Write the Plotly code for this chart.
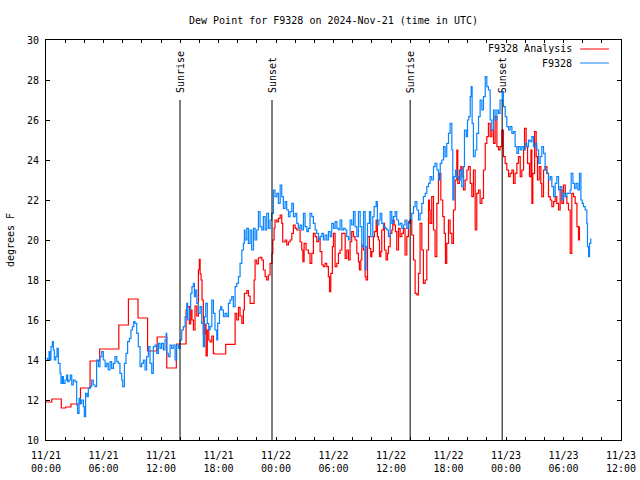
import pandas as pd
import plotly.graph_objects as go

START = pd.Timestamp("2024-11-21 00:00")

# F9328 Analysis (red) : minutes after 2024-11-21 00:00 UTC and dew point (F)
red_minutes = [
    0, 36, 96, 123, 156, 216, 276, 336, 456, 516,
    576, 636, 696, 756, 816, 877, 885, 898, 906, 914,
    923, 933, 944, 954, 960, 965, 971, 977, 985, 994,
    1002, 1010, 1019, 1027, 1038, 1048, 1054, 1125, 1184, 1194,
    1205, 1215, 1226, 1236, 1242, 1257, 1267, 1278, 1294, 1303,
    1309, 1319, 1330, 1340, 1351, 1361, 1372, 1382, 1392, 1403,
    1415, 1420, 1428, 1434, 1445, 1455, 1466, 1476, 1482, 1497,
    1507, 1518, 1528, 1539, 1549, 1560, 1570, 1580, 1591, 1601,
    1608, 1616, 1628, 1643, 1653, 1664, 1674, 1685, 1695, 1706,
    1716, 1727, 1737, 1747, 1758, 1768, 1775, 1783, 1793, 1800,
    1810, 1821, 1831, 1841, 1852, 1862, 1873, 1883, 1894, 1904,
    1914, 1925, 1935, 1946, 1956, 1962, 1971, 1977, 1988, 1998,
    2004, 2013, 2025, 2033, 2040, 2050, 2056, 2067, 2075, 2081,
    2088, 2096, 2102, 2113, 2119, 2129, 2138, 2144, 2155, 2165,
    2171, 2180, 2188, 2196, 2207, 2217, 2228, 2238, 2248, 2259,
    2269, 2280, 2290, 2301, 2311, 2322, 2332, 2342, 2353, 2363,
    2374, 2384, 2395, 2401, 2405, 2415, 2426, 2436, 2447, 2457,
    2463, 2472, 2484, 2493, 2501, 2509, 2520, 2530, 2541, 2551,
    2562, 2572, 2578, 2589, 2597, 2605, 2614, 2624, 2635, 2645,
    2656, 2666, 2676, 2687, 2697, 2708, 2718, 2729, 2739, 2750,
    2760, 2770, 2781, 2791, 2802, 2812, 2823, 2833, 2843, 2854,
    2864, 2875, 2885, 2896, 2906, 2917, 2927, 2937, 2948, 2958,
    2969, 2979, 2990, 2996, 3006, 3015, 3027, 3036, 3042, 3048,
    3059, 3069, 3077, 3088, 3098, 3104, 3115, 3125, 3136, 3146,
    3157, 3167, 3178, 3188, 3198, 3209, 3219, 3230, 3240, 3251,
    3261, 3271, 3282, 3292, 3303, 3313, 3324, 3334, 3340,
]
red_values = [
    11.9, 12.05, 11.6, 11.65, 11.8, 12.6, 13.95, 14.55, 15.75, 17.05,
    16.1, 14.45, 15.15, 13.6, 14.8, 16.5, 16.67, 15.8, 16.5, 16.0,
    15.5, 16.7, 16.2, 18.5, 19.03, 18.3, 18.0, 17.0, 15.3, 15.8,
    14.2, 15.5, 15.0, 14.9, 15.2, 14.33, 14.3, 14.78, 16.33, 16.0,
    16.63, 16.2, 15.83, 16.5, 17.33, 17.47, 17.2, 16.83, 16.83, 18.0,
    19.0, 18.8, 19.1, 19.13, 19.0, 18.5, 18.17, 18.0, 18.25, 18.83,
    19.33, 20.0, 20.6, 21.0, 20.9, 21.08, 21.25, 20.83, 19.9, 20.0,
    19.75, 19.9, 20.0, 20.33, 20.75, 20.58, 20.5, 20.5, 19.9, 19.5,
    18.92, 19.83, 19.5, 19.33, 18.83, 19.33, 20.33, 20.17, 19.92, 20.08,
    19.42, 18.75, 18.67, 18.83, 18.67, 18.17, 17.42, 18.33, 19.67, 20.33,
    18.67, 18.83, 19.33, 19.5, 20.33, 20.33, 19.08, 19.5, 19.0, 19.92,
    20.42, 20.17, 20.0, 19.33, 18.92, 18.5, 19.0, 19.75, 19.5, 18.17,
    18.0, 20.17, 19.58, 19.17, 19.42, 20.17, 20.42, 21.0, 20.17, 20.0,
    19.17, 19.42, 20.5, 20.83, 19.5, 19.0, 19.33, 19.67, 20.33, 20.5,
    21.0, 20.75, 20.42, 19.5, 20.58, 20.17, 20.33, 20.58, 19.25, 20.17,
    20.92, 21.0, 20.25, 19.0, 17.33, 17.25, 18.33, 20.83, 19.5, 17.83,
    18.0, 19.5, 22.0, 21.5, 20.83, 22.17, 20.5, 19.17, 21.83, 23.0,
    23.33, 22.0, 21.17, 20.33, 18.83, 19.83, 21.0, 20.33, 19.83, 21.5,
    23.0, 24.5, 22.83, 23.5, 23.67, 23.17, 22.5, 23.0, 23.5, 23.67,
    22.83, 22.17, 23.5, 20.5, 22.33, 22.5, 21.83, 22.08, 23.5, 24.83,
    25.17, 25.83, 25.17, 25.5, 24.83, 26.17, 24.67, 24.5, 24.67, 25.5,
    24.17, 23.83, 23.5, 23.17, 23.33, 23.5, 22.83, 23.33, 23.83, 24.17,
    23.17, 23.5, 24.5, 25.58, 24.67, 23.83, 23.17, 24.5, 21.83, 23.33,
    25.42, 24.17, 23.0, 23.67, 22.83, 22.17, 23.5, 23.67, 23.33, 22.17,
    22.0, 21.67, 21.92, 22.17, 21.83, 21.5, 22.5, 21.83, 22.75, 22.17,
    21.83, 21.5, 19.33, 22.33, 22.17, 21.83, 20.67, 20.0, 20.67,
]

# F9328 station (blue)
blue_minutes = [
    4, 10, 19, 25, 31, 40, 46, 52, 61, 69,
    77, 88, 94, 102, 109, 119, 129, 136, 144, 152,
    161, 171, 182, 192, 198, 207, 215, 223, 234, 240,
    248, 257, 265, 276, 286, 296, 307, 317, 328, 338,
    349, 359, 370, 380, 390, 401, 411, 422, 432, 443,
    453, 463, 474, 480, 491, 501, 511, 522, 532, 541,
    549, 557, 568, 578, 589, 599, 610, 620, 630, 641,
    651, 662, 672, 683, 693, 704, 714, 724, 735, 745,
    752, 756, 766, 777, 787, 797, 808, 818, 829, 839,
    850, 860, 871, 881, 887, 898, 906, 914, 923, 929,
    935, 944, 954, 965, 975, 985, 992, 1000, 1010, 1019,
    1027, 1038, 1048, 1058, 1069, 1075, 1086, 1094, 1100, 1111,
    1121, 1132, 1142, 1152, 1163, 1173, 1184, 1194, 1205, 1215,
    1226, 1236, 1242, 1246, 1257, 1267, 1278, 1288, 1299, 1309,
    1319, 1330, 1340, 1351, 1361, 1372, 1382, 1393, 1403, 1413,
    1424, 1434, 1445, 1455, 1466, 1476, 1486, 1497, 1507, 1518,
    1528, 1539, 1549, 1560, 1570, 1580, 1591, 1601, 1612, 1622,
    1633, 1643, 1653, 1664, 1674, 1685, 1695, 1706, 1716, 1727,
    1737, 1747, 1758, 1768, 1779, 1789, 1800, 1810, 1821, 1831,
    1841, 1852, 1862, 1873, 1883, 1894, 1904, 1914, 1925, 1935,
    1946, 1956, 1967, 1977, 1988, 1998, 2004, 2013, 2025, 2033,
    2046, 2054, 2067, 2075, 2084, 2092, 2102, 2113, 2123, 2134,
    2144, 2155, 2165, 2175, 2186, 2196, 2207, 2217, 2228, 2238,
    2248, 2259, 2269, 2280, 2290, 2301, 2311, 2322, 2332, 2342,
    2353, 2363, 2374, 2384, 2395, 2405, 2415, 2426, 2436, 2447,
    2457, 2468, 2478, 2489, 2499, 2509, 2520, 2530, 2541, 2547,
    2555, 2564, 2572, 2582, 2593, 2603, 2614, 2620, 2631, 2639,
    2647, 2656, 2662, 2668, 2676, 2687, 2697, 2708, 2718, 2729,
    2739, 2750, 2760, 2770, 2781, 2791, 2802, 2812, 2823, 2833,
    2843, 2856, 2864, 2875, 2885, 2896, 2906, 2917, 2927, 2937,
    2948, 2958, 2969, 2979, 2990, 3000, 3010, 3021, 3031, 3042,
    3052, 3063, 3073, 3084, 3094, 3104, 3115, 3125, 3136, 3146,
    3157, 3167, 3178, 3188, 3198, 3209, 3219, 3230, 3240, 3251,
    3261, 3271, 3282, 3288, 3299, 3309, 3319, 3330, 3340, 3349,
    3357, 3365, 3376, 3386, 3390, 3397, 3403, 3411,
]
blue_values = [
    14.08, 14.0, 14.42, 14.0, 14.67, 14.92, 14.5, 14.0, 14.17, 14.58,
    13.83, 13.33, 12.83, 13.17, 12.83, 13.0, 13.25, 12.92, 13.0, 13.25,
    12.75, 13.0, 12.92, 11.75, 11.33, 12.08, 11.83, 12.0, 11.67, 11.17,
    12.33, 12.17, 12.58, 12.67, 13.0, 12.75, 12.67, 14.0, 13.67, 14.17,
    14.42, 14.0, 13.67, 13.83, 13.5, 13.92, 13.58, 13.83, 14.17, 13.92,
    13.83, 13.33, 13.0, 12.67, 13.83, 14.33, 14.92, 15.08, 15.5, 15.67,
    15.92, 15.83, 15.33, 14.67, 13.67, 13.83, 14.0, 13.5, 14.17, 14.67,
    13.83, 13.33, 14.67, 14.75, 14.33, 14.83, 14.58, 14.83, 14.5, 15.0,
    15.33, 14.33, 14.17, 14.75, 14.58, 14.75, 14.0, 14.75, 14.58, 15.0,
    15.5, 15.67, 16.17, 16.83, 16.0, 16.5, 17.33, 17.67, 17.83, 17.17,
    17.5, 16.83, 16.33, 16.67, 15.83, 14.67, 16.17, 16.83, 15.83, 15.5,
    15.67, 17.0, 16.33, 15.5, 15.0, 15.83, 16.5, 16.67, 16.5, 16.17,
    16.33, 16.17, 16.83, 17.0, 17.17, 16.67, 17.67, 17.83, 18.17, 18.83,
    19.5, 19.83, 20.5, 20.0, 20.58, 19.83, 20.5, 19.5, 20.58, 20.0,
    20.5, 21.42, 20.67, 20.5, 21.17, 20.5, 21.33, 20.58, 21.0, 21.33,
    22.5, 22.17, 22.33, 21.83, 22.75, 22.17, 21.58, 21.92, 21.5, 21.17,
    21.42, 21.83, 21.17, 21.33, 20.83, 20.58, 20.75, 20.5, 21.33, 20.67,
    20.42, 20.58, 21.33, 21.17, 20.83, 20.5, 20.33, 20.0, 20.17, 20.33,
    20.0, 20.25, 20.0, 20.42, 20.17, 20.83, 20.58, 20.92, 20.58, 20.5,
    21.0, 20.5, 20.58, 20.5, 20.17, 20.0, 21.0, 20.75, 21.42, 20.67,
    20.17, 21.42, 20.67, 19.67, 21.42, 18.5, 19.67, 20.83, 21.42, 20.17,
    21.17, 21.67, 21.92, 20.75, 21.0, 21.33, 20.83, 20.67, 20.58, 20.5,
    20.17, 21.42, 20.83, 21.17, 21.42, 21.0, 20.75, 20.83, 20.58, 20.75,
    21.0, 20.58, 20.83, 21.0, 21.33, 21.67, 21.92, 21.5, 21.0, 21.33,
    21.83, 22.17, 22.33, 22.67, 22.83, 23.17, 23.0, 23.67, 23.83, 23.5,
    23.0, 23.83, 24.0, 24.67, 24.17, 24.83, 25.33, 25.83, 24.5, 22.0,
    23.17, 23.5, 23.17, 23.0, 23.5, 22.67, 23.67, 25.5, 25.17, 26.0,
    26.17, 27.17, 27.67, 25.83, 24.17, 24.5, 25.33, 26.17, 27.0, 26.5,
    27.17, 28.17, 27.67, 27.5, 26.0, 25.5, 26.5, 26.0, 26.5, 26.33,
    27.0, 27.42, 26.67, 26.17, 25.67, 25.5, 25.67, 25.33, 25.42, 24.67,
    24.33, 24.67, 24.5, 24.67, 24.5, 24.83, 24.67, 25.0, 24.92, 25.17,
    24.67, 24.83, 24.5, 23.83, 24.17, 24.67, 24.33, 23.5, 23.33, 23.0,
    23.17, 22.67, 22.17, 22.83, 23.17, 22.5, 22.67, 22.0, 22.33, 22.17,
    22.33, 22.33, 22.5, 23.33, 22.83, 22.58, 22.83, 22.5, 23.33, 22.0,
    21.83, 21.67, 21.5, 20.83, 19.67, 19.17, 19.83, 20.08,
]

sun_labels = ["Sunrise", "Sunset", "Sunrise", "Sunset"]
sun_times = ["2024-11-21 13:59", "2024-11-21 23:35", "2024-11-22 14:00", "2024-11-22 23:36"]
sun_line_top = 27

series_names = ["F9328 Analysis", "F9328"]
series_colors = ["#ff0000", "#0a84ff"]

x_start = "2024-11-21 00:00"
x_end = "2024-11-23 12:00"
title_text = "Dew Point for F9328 on 2024-Nov-21 (time in UTC)"
y_title = "degrees F"

FONT = "DejaVu Sans Mono"


def to_time(mins):
    return [START + pd.Timedelta(minutes=m) for m in mins]


fig = go.Figure()
fig.add_trace(go.Scatter(
    x=to_time(red_minutes), y=red_values, mode="lines",
    line=dict(color=series_colors[0], width=1.2, shape="hv"),
    name=series_names[0], showlegend=False))
fig.add_trace(go.Scatter(
    x=to_time(blue_minutes), y=blue_values, mode="lines",
    line=dict(color=series_colors[1], width=1.2, shape="hv"),
    name=series_names[1], showlegend=False))

for lbl, t in zip(sun_labels, sun_times):
    fig.add_shape(type="line", xref="x", yref="y", x0=t, x1=t, y0=10, y1=sun_line_top,
                  line=dict(color="black", width=1))
    fig.add_annotation(x=t, y=sun_line_top, xref="x", yref="y", text=lbl, textangle=-90,
                       showarrow=False, xanchor="center", yanchor="bottom", yshift=5,
                       font=dict(family=FONT, size=10, color="black"))

# legend drawn gnuplot-style (text right-aligned, sample line on the right)
for i, (nm, col) in enumerate(zip(series_names, series_colors)):
    ypos = 0.9775 - i * 0.035
    fig.add_annotation(x=0.918, y=ypos, xref="paper", yref="paper", text=nm,
                       showarrow=False, xanchor="right", yanchor="middle",
                       font=dict(family=FONT, size=10, color="black"))
    fig.add_shape(type="line", xref="paper", yref="paper", x0=0.9287, x1=0.979,
                  y0=ypos, y1=ypos, line=dict(color=col, width=1))

fig.update_layout(
    width=640, height=480,
    margin=dict(l=46, r=19, t=40, b=40),
    paper_bgcolor="white", plot_bgcolor="white",
    font=dict(family=FONT, size=10, color="black"),
    title=dict(text=title_text, x=0.5, xref="paper", xanchor="center",
               y=1 - 20 / 480, yref="container", yanchor="middle",
               font=dict(family=FONT, size=10, color="black")),
    showlegend=False,
)
fig.update_xaxes(
    type="date", range=[x_start, x_end],
    dtick=6 * 3600 * 1000, tick0=x_start, tickformat="%m/%d<br>%H:%M",
    ticks="inside", ticklen=3, tickcolor="black", ticklabelstandoff=6,
    minor=dict(dtick=2 * 3600 * 1000, tick0=x_start, ticks="inside", ticklen=3, tickcolor="black"),
    showline=True, linecolor="black", linewidth=1, mirror="ticks",
    showgrid=False, zeroline=False, automargin=False,
    tickfont=dict(family=FONT, size=10, color="black"),
)
fig.update_yaxes(
    range=[10, 30], dtick=2, tick0=10,
    ticks="inside", ticklen=4, tickcolor="black", ticklabelstandoff=4,
    showline=True, linecolor="black", linewidth=1, mirror="ticks",
    showgrid=False, zeroline=False, automargin=False,
    tickfont=dict(family=FONT, size=10, color="black"),
    title=dict(text=y_title, standoff=10, font=dict(family=FONT, size=10, color="black")),
)

fig.write_html("out.html", config={"displayModeBar": False},
               post_script="document.body.style.margin='0px';")
